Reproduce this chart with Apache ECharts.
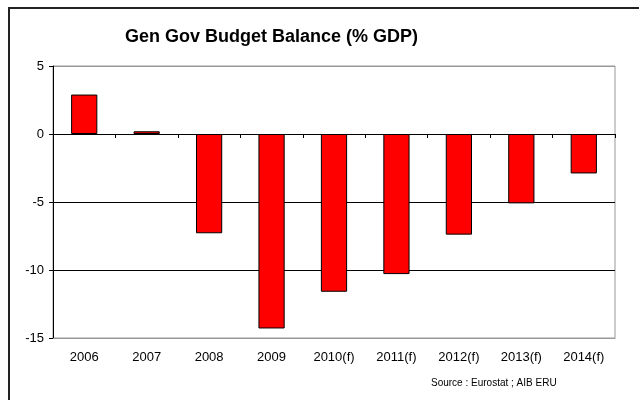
<!DOCTYPE html>
<html>
<head>
<meta charset="utf-8">
<script src="https://cdn.jsdelivr.net/npm/echarts@6/dist/echarts.min.js"></script>
<style>
  html, body { margin: 0; padding: 0; background: #fff; }
  #chart { width: 639px; height: 400px; }
</style>
</head>
<body>
<div id="chart"></div>
<script>
var years = ['2006', '2007', '2008', '2009', '2010(f)', '2011(f)', '2012(f)', '2013(f)', '2014(f)'];
var balance = [2.9, 0.2, -7.3, -14.3, -11.6, -10.3, -7.4, -5.1, -2.9];
var yMin = -15, yMax = 5, yStep = 5;

var chart = echarts.init(document.getElementById('chart'));

var option = {
  backgroundColor: '#fff',
  animation: false,
  title: {
    text: 'Gen Gov Budget Balance (% GDP)',
    left: 120,
    top: 23,
    textStyle: { fontFamily: 'Liberation Sans, Arial', fontSize: 18, fontWeight: 'bold', color: '#000' }
  },
  grid: {
    left: 53, right: 24, top: 66, bottom: 62,
    show: true, borderColor: '#999', borderWidth: 1
  },
  xAxis: [
    {
      // line at zero, ticks pointing down
      type: 'category',
      data: years,
      position: 'top',
      axisLine: { onZero: true, lineStyle: { color: '#000', width: 1 } },
      axisTick: { show: true, inside: true, length: 4, lineStyle: { color: '#000' } },
      axisLabel: { show: false },
      splitLine: { show: false }
    },
    {
      // labels along the bottom
      type: 'category',
      data: years,
      position: 'bottom',
      axisLine: { onZero: false, lineStyle: { color: '#999' } },
      axisTick: { show: false },
      axisLabel: { margin: 13, color: '#000', fontSize: 13, fontFamily: 'Liberation Sans, Arial' },
      splitLine: { show: false }
    }
  ],
  yAxis: {
    type: 'value',
    min: yMin, max: yMax, interval: yStep,
    axisLine: { show: true, lineStyle: { color: '#000' } },
    axisTick: { show: true, length: 4, lineStyle: { color: '#000' } },
    axisLabel: { margin: 9, color: '#000', fontSize: 13, fontFamily: 'Liberation Sans, Arial' },
    splitLine: { show: true, lineStyle: { color: ['#999', '#000', '#000', '#000', '#999'], width: 1 } }
  },
  graphic: [
    {
      type: 'rect',
      shape: { x: 9, y: 8, width: 700, height: 500 },
      style: { fill: 'none', stroke: '#222', lineWidth: 2 },
      silent: true
    },
    {
      type: 'text',
      left: 431, top: 378,
      style: { text: 'Source : Eurostat ; AIB ERU', fill: '#000', fontSize: 10, fontFamily: 'Liberation Sans, Arial' }
    }
  ],
  series: [{
    type: 'bar',
    xAxisIndex: 0,
    data: balance,
    barWidth: '42%',
    itemStyle: { color: '#ff0000', borderColor: '#000', borderWidth: 1 }
  }]
};

chart.setOption(option);
</script>
</body>
</html>
